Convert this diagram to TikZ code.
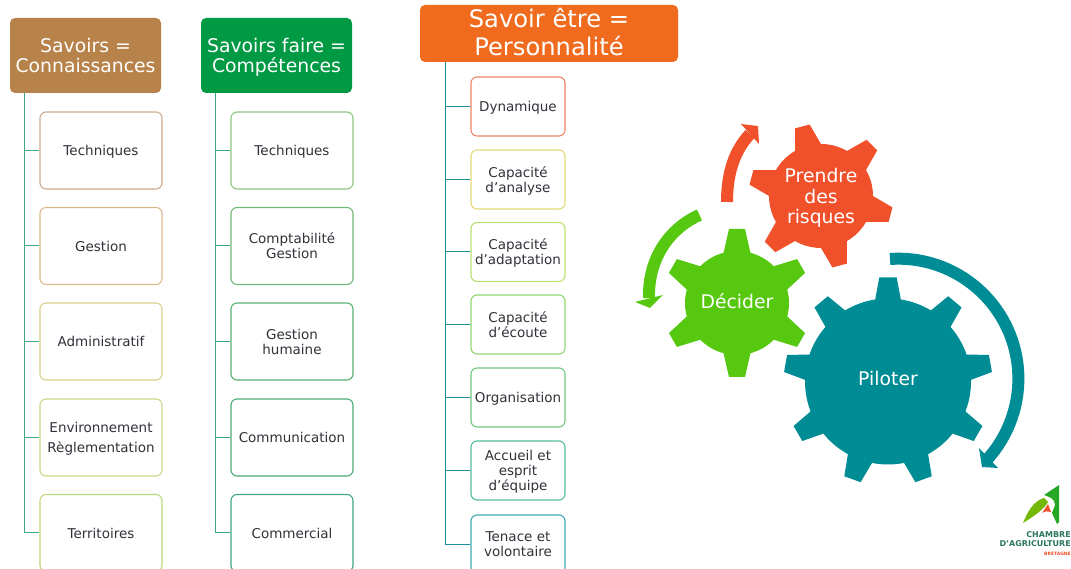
\documentclass[tikz,border=0pt]{standalone}
\usepackage{fontspec}
\setmainfont{DejaVu Sans}
\definecolor{brownhead}{HTML}{B8834A}
\definecolor{greenhead}{HTML}{009A44}
\definecolor{orangehead}{HTML}{F06B1E}
\definecolor{tealgear}{HTML}{008C95}
\definecolor{greengear}{HTML}{55C80F}
\definecolor{redgear}{HTML}{F0512B}
\definecolor{branchgreen}{HTML}{3DAA85}
\definecolor{branchteal}{HTML}{1F8F9A}
\definecolor{textgrey}{HTML}{2F3238}
\definecolor{edgea1}{HTML}{CDAA8E}
\definecolor{edgea2}{HTML}{D9B98A}
\definecolor{edgea3}{HTML}{D6D08A}
\definecolor{edgea4}{HTML}{CDD488}
\definecolor{edgea5}{HTML}{BBD67A}
\definecolor{edgeb1}{HTML}{8CC47F}
\definecolor{edgeb2}{HTML}{6FB975}
\definecolor{edgeb3}{HTML}{58B070}
\definecolor{edgeb4}{HTML}{4BA978}
\definecolor{edgeb5}{HTML}{3FA58A}
\definecolor{edgec1}{HTML}{EE8466}
\definecolor{edgec2}{HTML}{E5D874}
\definecolor{edgec3}{HTML}{BADF6E}
\definecolor{edgec4}{HTML}{8FD66E}
\definecolor{edgec5}{HTML}{6FC77E}
\definecolor{edgec6}{HTML}{52BBA0}
\definecolor{edgec7}{HTML}{3FA9AE}
\newcommand{\gear}[7]{% centre, colour, body radius, tip radius, angles, tip half width, base half width
  \fill[#2] #1 circle (#3);
  \foreach \a in {#5}
    \fill[#2,shift={#1},rotate=\a] (#3-2,-#7) -- (#4,-#6) -- (#4,#6) -- (#3-2,#7) -- cycle;
}
\begin{document}
\begin{tikzpicture}[x=1pt,y=1pt,
    head/.style={rectangle, rounded corners=5pt, text=white, align=center, inner sep=0pt, text depth=0pt},
    item/.style={rectangle, draw, rounded corners=6pt, line width=1.1pt, minimum width=122pt, minimum height=77pt,
      align=center, inner sep=0pt, text depth=0pt, text=textgrey, font=\fontsize{13.5}{15}\selectfont},
    small/.style={item, minimum width=94pt, minimum height=59pt},
    branch/.style={branchgreen, line width=1pt},
    geartext/.style={text=white, align=center, text depth=0pt, font=\fontsize{18.8}{20.5}\selectfont},
    sweep/.style={line width=12pt}]
   \useasboundingbox (0,0) rectangle (1071,569);
   % headers
   \node[head, fill=brownhead, minimum width=151pt, minimum height=75pt, font=\fontsize{18.8}{20.5}\selectfont] (savoirs) at (85.5,513.5) {Savoirs =\\Connaissances};
   \node[head, fill=greenhead, minimum width=151pt, minimum height=75pt, font=\fontsize{18.8}{20.5}\selectfont] (faire) at (276.5,513.5) {Savoirs faire =\\Compétences};
   \node[head, fill=orangehead, minimum width=258pt, minimum height=57pt, text depth=3pt, font=\fontsize{24.2}{28}\selectfont] (etre) at (549,535.5) {Savoir être =\\Personnalité};
   \coordinate (rootA) at (24,476);
   \coordinate (rootB) at (215,476);
   \coordinate (rootC) at (445.5,507);
   % first column
   \node[item, draw=edgea1] (a1) at (101,418.5) {Techniques};
   \node[item, draw=edgea2] (a2) at (101,323) {Gestion};
   \node[item, draw=edgea3] (a3) at (101,227.5) {Administratif};
   \node[item, draw=edgea4] (a4) at (101,131.5) {Environnement\\[5pt]Règlementation};
   \node[item, draw=edgea5] (a5) at (101,36) {Territoires};
   % second column
   \node[item, draw=edgeb1] (b1) at (292,418.5) {Techniques};
   \node[item, draw=edgeb2] (b2) at (292,323) {Comptabilité\\Gestion};
   \node[item, draw=edgeb3] (b3) at (292,227.5) {Gestion\\humaine};
   \node[item, draw=edgeb4] (b4) at (292,131.5) {Communication};
   \node[item, draw=edgeb5] (b5) at (292,36) {Commercial};
   % third column
   \node[small, draw=edgec1] (c1) at (518,462.5) {Dynamique};
   \node[small, draw=edgec2] (c2) at (518,389.5) {Capacité\\d’analyse};
   \node[small, draw=edgec3] (c3) at (518,317) {Capacité\\d’adaptation};
   \node[small, draw=edgec4] (c4) at (518,244.5) {Capacité\\d’écoute};
   \node[small, draw=edgec5] (c5) at (518,171.5) {Organisation};
   \node[small, draw=edgec6] (c6) at (518,98.5) {Accueil et\\esprit\\d’équipe};
   \node[small, draw=edgec7] (c7) at (518,24.5) {Tenace et\\volontaire};
   \foreach \n in {a1,a2,a3,a4,a5}
      \draw[branch] (rootA) |- (\n.west);
   \foreach \n in {b1,b2,b3,b4,b5}
      \draw[branch] (rootB) |- (\n.west);
   \foreach \n in {c1,c2,c3,c4,c5,c6,c7}
      \draw[branch, branchteal] (rootC) |- (\n.west);
   % gears
   \gear{(888,187.5)}{tealgear}{83}{104}{90,130,170,210,250,290,330,10,50}{8.7}{13}
   \gear{(737,266)}{greengear}{52}{74}{90,150,210,270,330,30}{8}{13.5}
   \gear{(821,373)}{redgear}{52}{72}{45,105,165,225,285,345}{7.5}{13.5}
   \node[geartext] (piloter) at (888,191) {Piloter};
   \node[geartext] (decider) at (737,268) {Décider};
   \node[geartext] (prendre) at (821,373) {Prendre\\des\\risques};
   % sweeping arrows
   \draw[sweep, tealgear] (890,310) arc (94:-42:120);
   \fill[tealgear] (979,121) -- (982,102) -- (998,101) -- cycle;
   \draw[sweep, redgear] (727,367) .. controls (727,397) and (735,419) .. (750,435);
   \fill[redgear] (741,445) -- (758,443) -- (759,425) -- cycle;
   \draw[sweep, greengear] (699.5,354) .. controls (670,341) and (648,311) .. (649,271);
   \fill[greengear] (635,267) -- (650,261) -- (663,274) -- cycle;
   % logo
   \fill[green!60!black!85!white] (1059,84) -- (1044,74) .. controls (1050,72) and (1055,70) .. (1055,64) -- (1052,56) -- (1057,45) -- (1059,47) -- cycle;
   \fill[greengear!70!yellow!85!black] (1023,46) .. controls (1027,56) and (1033,68) .. (1044,71) -- (1048,67) .. controls (1044,60) and (1036,54) .. (1023,46) -- cycle;
   \fill[redgear] (1042,56) -- (1048,65) -- (1051,57) .. controls (1048,58) and (1045,58) .. (1042,56) -- cycle;
   \node[anchor=north east, inner sep=0pt, align=right, text=branchgreen!70!black, font=\fontsize{8}{9.5}\selectfont\bfseries] (logotext) at (1071,38) {CHAMBRE\\D’AGRICULTURE};
   \node[anchor=north east, inner sep=0pt, text=redgear, font=\fontsize{4.5}{5}\selectfont\bfseries] (logoregion) at (1071,17) {BRETAGNE};
\end{tikzpicture}
\end{document}
